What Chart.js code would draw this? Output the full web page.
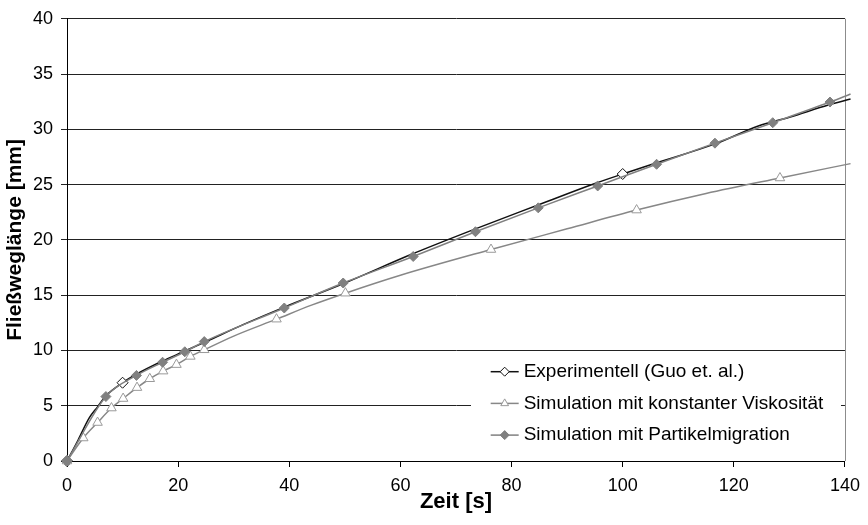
<!DOCTYPE html>
<html>
<head>
<meta charset="utf-8">
<title>Fließweglänge</title>
<script src="https://cdn.jsdelivr.net/npm/chart.js@4.4.1/dist/chart.umd.min.js"></script>
<style>
    html, body { margin: 0; padding: 0; background: #fff; }
    canvas { display: block; }
</style>
</head>
<body>
<canvas id="flowChart" width="868" height="525"></canvas>
<script>
(function() {
    'use strict';

    const FONT = '"Liberation Sans", Arial, sans-serif';

    // Experimentell (Guo et. al.) - time [s], flow length [mm], points with a marker
    const expTime   = [0, 2, 4, 5.5, 7, 10, 12.5, 17, 21, 25, 32, 39, 50, 62, 73.5, 85, 95, 100, 106, 117, 124.4, 130, 137, 141];
    const expLength = [0, 1.9, 3.9, 4.9, 5.9, 7.08, 7.85, 9.0, 9.9, 10.8, 12.4, 13.9, 16.1, 18.7, 21.0, 23.2, 25.1, 25.96, 26.95, 28.75, 30.3, 31.1, 32.2, 32.75];
    const expMarked = [0, 10, 100];

    // Simulation mit konstanter Viskosität
    const constTime   = [0, 2.93, 5.5, 8.0, 10.1, 12.6, 14.9, 17.3, 19.7, 22.2, 24.7, 30, 37.7, 44, 50.1, 60, 76.3, 90, 102.5, 115, 128.3, 141];
    const constLength = [0, 2.08, 3.48, 4.79, 5.65, 6.64, 7.44, 8.13, 8.72, 9.46, 10.06, 11.3, 12.83, 14.1, 15.18, 16.8, 19.13, 21.0, 22.7, 24.2, 25.6, 26.9];
    const constMarked = [0, 2.93, 5.5, 8.0, 10.1, 12.6, 14.9, 17.3, 19.7, 22.2, 24.7, 37.7, 50.1, 76.3, 102.5, 128.3];

    // Simulation mit Partikelmigration
    const migTime   = [0, 7.0, 12.5, 17.2, 21.2, 24.7, 39.1, 49.7, 62.3, 73.5, 84.8, 95.5, 106.1, 116.6, 127.0, 137.3, 141];
    const migLength = [0, 5.83, 7.74, 8.93, 9.88, 10.8, 13.84, 16.1, 18.5, 20.74, 22.9, 24.88, 26.84, 28.75, 30.6, 32.47, 33.2];
    const migMarked = [0, 7.0, 12.5, 17.2, 21.2, 24.7, 39.1, 49.7, 62.3, 73.5, 84.8, 95.5, 106.1, 116.6, 127.0, 137.3];

    // Axis ranges and tick steps
    const xRange = [0, 140];
    const yRange = [0, 40];
    const xStep = 20;
    const yStep = 5;

    function toPoints(t, v) {
        return t.map((x, i) => ({ x: x, y: v[i] }));
    }

    function markerRadius(t, marked, r) {
        return ctx => marked.includes(t[ctx.dataIndex]) ? r : 0;
    }

    /**
     * Draw a single marker (same geometry as Chart.js point styles)
     */
    function drawMarker(ctx, shape, x, y, r, fill, stroke) {
        ctx.beginPath();
        if (shape === 'triangle') {
            ctx.moveTo(x, y - r);
            ctx.lineTo(x + r * 0.866, y + r * 0.5);
            ctx.lineTo(x - r * 0.866, y + r * 0.5);
        } else {
            ctx.moveTo(x - r, y);
            ctx.lineTo(x, y - r);
            ctx.lineTo(x + r, y);
            ctx.lineTo(x, y + r);
        }
        ctx.closePath();
        ctx.fillStyle = fill;
        ctx.fill();
        ctx.lineWidth = 1;
        ctx.strokeStyle = stroke;
        ctx.stroke();
    }

    // Grey frame on the right side of the plot area
    const plotFrame = {
        id: 'plotFrame',
        beforeDatasetsDraw(chart) {
            const { ctx, chartArea } = chart;
            ctx.save();
            ctx.strokeStyle = '#8c8c8c';
            ctx.lineWidth = 1;
            ctx.beginPath();
            ctx.moveTo(Math.round(chartArea.right) + 0.5, chartArea.top);
            ctx.lineTo(Math.round(chartArea.right) + 0.5, chartArea.bottom);
            ctx.stroke();
            ctx.restore();
        }
    };

    // Legend box inside the plot area (bottom right)
    const plotLegend = {
        id: 'plotLegend',
        afterDatasetsDraw(chart) {
            const { ctx, chartArea } = chart;
            const boxW = 370, boxH = 104;
            const left = chartArea.right - 4 - boxW;
            const top = chartArea.bottom - 6 - boxH;
            ctx.save();
            ctx.fillStyle = '#fff';
            ctx.fillRect(left, top, boxW, boxH);
            ctx.font = '19px ' + FONT;
            ctx.textBaseline = 'middle';
            ctx.textAlign = 'left';
            chart.data.datasets.forEach((ds, i) => {
                const y = top + 20.7 + i * 31.7;
                const x0 = left + 19.7;
                ctx.strokeStyle = ds.borderColor;
                ctx.lineWidth = ds.borderWidth;
                ctx.beginPath();
                ctx.moveTo(x0, y);
                ctx.lineTo(x0 + 28, y);
                ctx.stroke();
                drawMarker(ctx, ds.pointStyle, x0 + 14, y, 4.5, ds.pointBackgroundColor, ds.pointBorderColor);
                ctx.fillStyle = '#000';
                ctx.fillText(ds.label, x0 + 33, y);
            });
            ctx.restore();
        }
    };

    const ctx = document.getElementById('flowChart').getContext('2d');

    new Chart(ctx, {
        type: 'line',
        data: {
            datasets: [
                {
                    label: 'Experimentell (Guo et. al.)',
                    data: toPoints(expTime, expLength),
                    borderColor: '#111',
                    borderWidth: 1.5,
                    pointStyle: 'rectRot',
                    pointBackgroundColor: '#fff',
                    pointBorderColor: '#111',
                    pointBorderWidth: 1,
                    pointRadius: markerRadius(expTime, expMarked, 5.5),
                    order: 3
                },
                {
                    label: 'Simulation mit konstanter Viskosität',
                    data: toPoints(constTime, constLength),
                    borderColor: '#878787',
                    borderWidth: 1.5,
                    pointStyle: 'triangle',
                    pointBackgroundColor: '#fff',
                    pointBorderColor: '#9a9a9a',
                    pointBorderWidth: 1,
                    pointRadius: markerRadius(constTime, constMarked, 5.5),
                    order: 2
                },
                {
                    label: 'Simulation mit Partikelmigration',
                    data: toPoints(migTime, migLength),
                    borderColor: '#808080',
                    borderWidth: 1.5,
                    pointStyle: 'rectRot',
                    pointBackgroundColor: '#808080',
                    pointBorderColor: '#808080',
                    pointBorderWidth: 1,
                    pointRadius: markerRadius(migTime, migMarked, 5),
                    order: 1
                }
            ]
        },
        options: {
            responsive: false,
            animation: false,
            devicePixelRatio: 1,
            clip: false,
            layout: {
                padding: { top: 13, right: 21, left: 0, bottom: 0 }
            },
            elements: {
                line: { cubicInterpolationMode: 'monotone', fill: false }
            },
            plugins: {
                legend: { display: false },
                tooltip: { enabled: false }
            },
            scales: {
                x: {
                    type: 'linear',
                    min: xRange[0],
                    max: xRange[1],
                    ticks: {
                        stepSize: xStep,
                        color: '#000',
                        padding: 8,
                        maxRotation: 0,
                        font: { family: FONT, size: 18 }
                    },
                    grid: {
                        drawOnChartArea: false,
                        drawTicks: true,
                        tickLength: 6,
                        color: '#000'
                    },
                    border: { color: '#000', width: 1 },
                    title: {
                        display: true,
                        text: 'Zeit [s]',
                        color: '#000',
                        font: { family: FONT, size: 22, weight: 'bold' },
                        padding: { top: 0, bottom: 10 }
                    },
                    afterFit(scale) { scale.height = 64; }
                },
                y: {
                    type: 'linear',
                    min: yRange[0],
                    max: yRange[1],
                    ticks: {
                        stepSize: yStep,
                        color: '#000',
                        padding: 8,
                        font: { family: FONT, size: 18 }
                    },
                    grid: {
                        color: '#222',
                        tickLength: 6,
                        drawTicks: true
                    },
                    border: { color: '#000', width: 1 },
                    title: {
                        display: true,
                        text: 'Fließweglänge [mm]',
                        color: '#000',
                        font: { family: FONT, size: 21, weight: 'bold' },
                        padding: { top: 3, bottom: 0 }
                    },
                    afterFit(scale) { scale.width = 67; }
                }
            }
        },
        plugins: [plotFrame, plotLegend]
    });
})();
</script>
</body>
</html>
